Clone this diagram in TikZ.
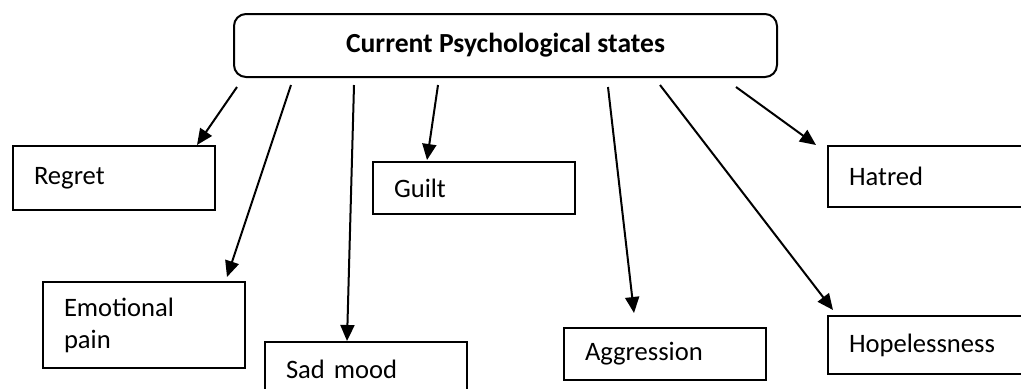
\documentclass[tikz,border=0pt]{standalone}
\usepackage{fontspec}
\setmainfont{Carlito}
\usetikzlibrary{arrows.meta}

\tikzset{
  statebox/.style={draw, line width=1pt, anchor=north west, minimum width=101pt, text width=80pt,
    inner xsep=10.5pt, inner ysep=0pt, align=left, font=\fontsize{13.3}{16}\selectfont},
  link/.style={-{Triangle[length=8pt,width=7pt]}, line width=1pt}
}

\begin{document}
\begin{tikzpicture}[x=0.5pt, y=-0.5pt]
    \useasboundingbox (0,0) rectangle (1021,388);
    \clip (0,0) rectangle (1021,388);

    \node[draw, rounded corners=6pt, line width=1pt, anchor=north west, minimum width=271.5pt, minimum height=31.5pt,
      font=\fontsize{13.8}{16}\selectfont\bfseries] (states) at (233,13) {Current Psychological states};

    \node[statebox, minimum height=32pt] (regret) at (12,145) {Regret};
    \node[statebox, minimum height=43pt] (pain) at (42,281) {Emotional\\pain};
    \node[statebox, minimum height=27pt] (sad) at (264,341) {Sad mood};
    \node[statebox, minimum height=26pt] (guilt) at (372,161) {Guilt};
    \node[statebox, minimum height=26pt] (aggr) at (563,327) {Aggression};
    \node[statebox, minimum height=30.5pt] (hatred) at (827,145) {Hatred};
    \node[statebox, minimum height=29pt] (hope) at (827,315) {Hopelessness};

    % arrows from below the top box
    \foreach \sx/\sy/\nd/\dx/\dy in {237/87/regret/92.5/0, 291/85/pain/92.5/2, 354/85/sad/41.5/0,
      438/85/guilt/27.5/0.5, 608/87/aggr/35.5/7, 660/85/hope/3/2.5, 736/87/hatred/-5.5/0} {
        \coordinate (from-\nd) at (\sx,\sy);
        \draw[link] (from-\nd) -- ([xshift=\dx pt, yshift=\dy pt]\nd.north west);
    }
\end{tikzpicture}
\end{document}
